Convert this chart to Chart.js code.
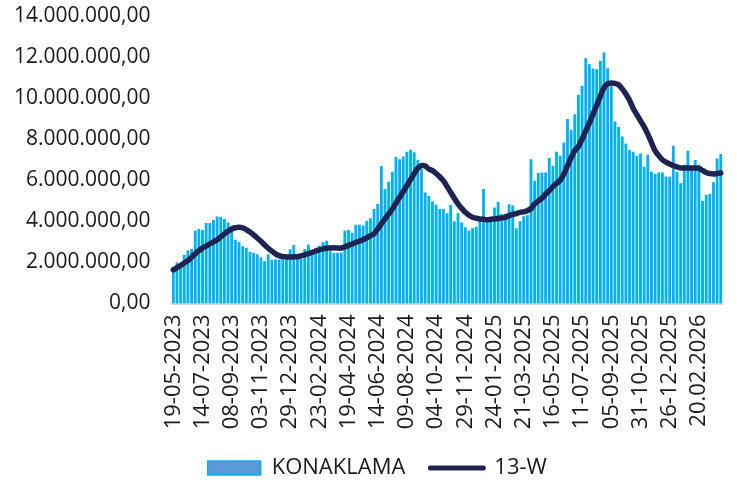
<!DOCTYPE html>
<html>
<head>
<meta charset="utf-8">
<script src="https://cdn.jsdelivr.net/npm/chart.js@4/dist/chart.umd.min.js"></script>
<style>
html,body{margin:0;padding:0;background:#fff;}
#wrap{width:737px;height:489px;}
</style>
</head>
<body>
<div id="wrap"><canvas id="c" width="737" height="489"></canvas></div>
<script>
// Weekly values, in millions
const konaklama = [
1.60,2.00,1.93,2.38,2.58,2.66,3.55,3.63,3.58,3.92,
3.92,4.07,4.24,4.22,4.12,3.95,3.75,3.10,3.00,2.79,
2.71,2.52,2.46,2.40,2.25,2.06,2.40,2.13,2.14,2.14,
2.16,2.17,2.64,2.85,2.17,2.17,2.66,2.87,2.61,2.71,
2.81,2.98,3.06,2.55,2.47,2.47,2.48,3.55,3.58,3.44,
3.83,3.83,3.80,4.03,4.15,4.60,4.85,6.69,5.58,5.93,
6.42,7.15,7.03,7.16,7.39,7.49,7.36,7.00,6.55,5.41,
5.24,4.97,4.81,4.60,4.60,4.39,4.80,4.00,4.41,3.95,
3.71,3.55,3.66,3.74,4.03,5.58,4.00,4.03,4.68,4.94,
4.36,4.36,4.83,4.77,3.66,4.00,4.25,4.30,7.03,5.98,
6.36,6.38,6.38,7.08,6.71,7.39,7.19,7.84,8.98,8.46,
9.22,10.16,10.60,11.94,11.65,11.44,11.41,11.81,12.22,11.46,
10.60,8.86,8.60,8.13,7.79,7.47,7.39,7.19,7.31,6.66,
7.24,6.42,6.31,6.38,6.38,6.19,6.17,7.68,6.42,5.85,
6.76,7.44,6.63,6.99,6.76,5.00,5.30,5.33,5.90,7.06,
7.28
];
const w13 = [
1.64,1.75,1.85,1.97,2.09,2.25,2.42,2.57,2.71,2.80,
2.90,3.00,3.10,3.25,3.39,3.52,3.63,3.69,3.71,3.68,
3.60,3.48,3.34,3.19,3.03,2.86,2.69,2.55,2.42,2.33,
2.28,2.27,2.27,2.27,2.28,2.32,2.37,2.43,2.49,2.55,
2.61,2.66,2.69,2.70,2.71,2.70,2.70,2.76,2.83,2.90,
2.97,3.04,3.10,3.20,3.30,3.40,3.63,3.88,4.12,4.36,
4.60,4.88,5.17,5.45,5.74,6.03,6.33,6.59,6.71,6.70,
6.55,6.47,6.33,6.17,5.98,5.70,5.41,5.13,4.85,4.63,
4.44,4.30,4.20,4.15,4.12,4.10,4.08,4.10,4.12,4.14,
4.17,4.20,4.28,4.34,4.38,4.44,4.46,4.52,4.62,4.85,
5.00,5.12,5.33,5.49,5.69,5.85,6.00,6.30,6.70,7.10,
7.45,7.65,8.00,8.40,8.80,9.22,9.65,10.10,10.50,10.70,
10.74,10.72,10.65,10.45,10.20,9.90,9.50,9.20,8.90,8.60,
8.25,7.84,7.44,7.20,7.00,6.88,6.79,6.72,6.65,6.60,
6.60,6.60,6.60,6.60,6.58,6.48,6.38,6.33,6.31,6.33,
6.35
];
const tickLabels = [
"19-05-2023","14-07-2023","08-09-2023","03-11-2023","29-12-2023",
"23-02-2024","19-04-2024","14-06-2024","09-08-2024","04-10-2024",
"29-11-2024","24-01-2025","21-03-2025","16-05-2025","11-07-2025",
"05-09-2025","31-10-2025","26-12-2025","20.02.2026"
];
const seriesNames = ["KONAKLAMA","13-W"];
const yTicks = [0,2,4,6,8,10,12,14];

// weekly category labels starting 19-05-2023
const categories = [];
(function(){
  const d0 = new Date(Date.UTC(2023,4,19));
  for (let i = 0; i < konaklama.length; i++) {
    const d = new Date(d0.getTime() + i*7*86400000);
    const dd = String(d.getUTCDate()).padStart(2,'0');
    const mm = String(d.getUTCMonth()+1).padStart(2,'0');
    categories.push(dd + '-' + mm + '-' + d.getUTCFullYear());
  }
})();

function fmt(v){
  const s = Math.round(v*1e6).toString().replace(/\B(?=(\d{3})+(?!\d))/g,'.');
  return s + ',00';
}

const BAR = '#00b0f0';
const NAVY = '#1e2352';
const TXT = '#1a1a1a';

function zeroPad(s){ s.paddingTop = 0; s.paddingBottom = 0; s.paddingLeft = 0; s.paddingRight = 0; }

const legendShift = {
  id:'legendShift',
  afterLayout(chart){
    const l = chart.legend;
    if (l) { l.left += 16; l.right += 16; }
  }
};

new Chart(document.getElementById('c'), {
  plugins:[legendShift],
  data: {
    labels: categories,
    datasets: [
      { type:'bar', label: seriesNames[0], data: konaklama, backgroundColor: BAR,
        borderWidth:0, barPercentage:0.78, categoryPercentage:1.0, order:1 },
      { type:'line', label: seriesNames[1], data: w13, borderColor: NAVY, backgroundColor: NAVY,
        borderWidth:5.5, pointRadius:0, tension:0.3, fill:false, order:0,
        borderCapStyle:'round', borderJoinStyle:'round' }
    ]
  },
  options: {
    responsive:false,
    animation:false,
    devicePixelRatio:1,
    layout:{ padding:{ left:0, right:14.4, top:16, bottom:0 } },
    plugins:{
      tooltip:{enabled:false},
      legend:{
        position:'bottom',
        labels:{
          usePointStyle:true,
          pointStyleWidth:53,
          boxHeight:14,
          padding:25,
          color:TXT,
          font:{ family:'Open Sans', size:22 },
          generateLabels: () => [
            { text: seriesNames[0], fillStyle:'#5b9bd5', strokeStyle:BAR, lineWidth:1.5,
              pointStyle:'rect', hidden:false, datasetIndex:0, fontColor:TXT },
            { text: seriesNames[1], fillStyle:NAVY, strokeStyle:NAVY, lineWidth:5,
              pointStyle:'line', lineCap:'round', hidden:false, datasetIndex:1, fontColor:TXT }
          ]
        }
      }
    },
    scales:{
      x:{
        grid:{ display:false, drawTicks:false },
        border:{ display:true, color:'#d9d9d9', width:2 },
        ticks:{
          autoSkip:false, minRotation:90, maxRotation:90, padding:11,
          color:TXT, font:{ family:'Open Sans', size:22 },
          callback: (v, i) => (i % 8 === 0 && tickLabels[i/8]) ? tickLabels[i/8] : ''
        },
        afterFit: (s) => { s.height = 128.5; zeroPad(s); }
      },
      y:{
        min:0, max:14,
        afterBuildTicks: (s) => { s.ticks = yTicks.map(v => ({value:v})); },
        grid:{ display:false, drawTicks:false },
        border:{ display:false },
        ticks:{ padding:21, color:TXT, font:{ family:'Open Sans', size:21 }, callback: (v) => fmt(v) },
        afterFit: (s) => { s.width = 171.5; zeroPad(s); }
      }
    }
  }
});
</script>
</body>
</html>
